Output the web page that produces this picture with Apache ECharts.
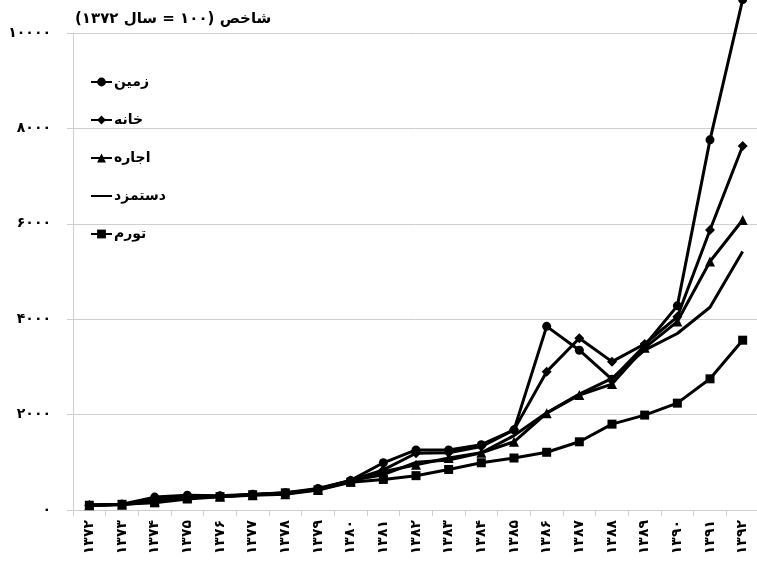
<!DOCTYPE html>
<html lang="fa">
<head>
<meta charset="utf-8">
<title>شاخص</title>
<script src="https://cdn.jsdelivr.net/npm/echarts@6/dist/echarts.min.js"></script>
<style>
  html, body { margin: 0; padding: 0; background: #fff; }
  #chart { width: 757px; height: 575px; direction: rtl; }
</style>
</head>
<body>
<div id="chart"></div>
<script>
// Years (Persian calendar), index base 1372 = 100
const years = ['۱۳۷۲','۱۳۷۳','۱۳۷۴','۱۳۷۵','۱۳۷۶','۱۳۷۷','۱۳۷۸','۱۳۷۹','۱۳۸۰','۱۳۸۱',
               '۱۳۸۲','۱۳۸۳','۱۳۸۴','۱۳۸۵','۱۳۸۶','۱۳۸۷','۱۳۸۸','۱۳۸۹','۱۳۹۰','۱۳۹۱','۱۳۹۲'];

const land    = [100, 120, 270, 310, 300, 330, 360, 450, 620, 990, 1260, 1260, 1370, 1680, 3850, 3350, 2740, 3450, 4280, 7760, 10700];
const housing = [100, 115, 220, 290, 290, 320, 340, 430, 620, 840, 1190, 1200, 1330, 1680, 2900, 3600, 3110, 3480, 4050, 5870, 7630];
const rent    = [100, 110, 180, 260, 280, 310, 330, 420, 600, 800, 950, 1090, 1200, 1430, 2030, 2410, 2640, 3400, 3950, 5210, 6080];
const wage    = [100, 120, 200, 270, 290, 320, 350, 440, 620, 740, 1000, 1050, 1200, 1560, 2040, 2430, 2760, 3350, 3700, 4250, 5420];
const cpi     = [100, 120, 150, 230, 280, 320, 360, 420, 580, 640, 720, 850, 990, 1090, 1210, 1430, 1800, 1990, 2240, 2750, 3560];

const yTicks = { 0: '۰', 2000: '۲۰۰۰', 4000: '۴۰۰۰', 6000: '۶۰۰۰', 8000: '۸۰۰۰', 10000: '۱۰۰۰۰' };

const FONT = '"DejaVu Sans", sans-serif';
const GRAY = '#cfcfcf';

function lineSeries(name, data, symbol, extra) {
  return Object.assign({
    name: name,
    type: 'line',
    data: data,
    symbol: symbol,
    symbolSize: 9,
    showSymbol: symbol !== 'none',
    lineStyle: { color: '#000', width: 3 },
    itemStyle: { color: '#000' },
    emphasis: { disabled: true },
    z: 3
  }, extra || {});
}

const chart = echarts.init(document.getElementById('chart'), null, { renderer: 'canvas' });
chart.setOption({
  animation: false,
  backgroundColor: '#fff',
  textStyle: { fontFamily: FONT },
  title: {
    text: 'شاخص (۱۰۰ = سال ۱۳۷۲)',
    left: 70,
    top: 7,
    textStyle: { fontFamily: FONT, fontSize: 15, fontWeight: 'bold', color: '#000' }
  },
  legend: {
    orient: 'vertical',
    left: 85,
    top: 70,
    itemWidth: 21,
    itemHeight: 11,
    itemGap: 24,
    textStyle: { fontFamily: FONT, fontSize: 14, fontWeight: 'bold', color: '#000', padding: [0, 0, 0, -3] },
    data: [
      'زمین',
      'خانه',
      'اجاره',
      { name: 'دستمزد', itemStyle: { opacity: 0 } },
      'تورم'
    ]
  },
  grid: { left: 73, top: 33, width: 686, height: 477, outerBoundsMode: 'none' },
  xAxis: {
    type: 'category',
    data: years,
    boundaryGap: true,
    axisLine: { lineStyle: { color: GRAY, width: 1 } },
    axisTick: { show: true, length: 6, lineStyle: { color: GRAY } },
    axisLabel: {
      rotate: 90,
      margin: 10,
      interval: 0,
      fontFamily: FONT,
      fontSize: 14,
      fontWeight: 'bold',
      color: '#000'
    },
    splitLine: { show: false }
  },
  yAxis: {
    type: 'value',
    min: 0,
    max: 10000,
    interval: 2000,
    axisLine: { show: true, lineStyle: { color: GRAY, width: 1 } },
    axisTick: { show: true, length: 6, lineStyle: { color: GRAY } },
    axisLabel: {
      margin: 22,
      fontFamily: FONT,
      fontSize: 14,
      fontWeight: 'bold',
      color: '#000',
      formatter: v => yTicks[v] !== undefined ? yTicks[v] : ''
    },
    splitLine: { show: true, lineStyle: { color: GRAY, width: 1 } }
  },
  series: [
    lineSeries('زمین', land, 'circle', { clip: false }),
    lineSeries('خانه', housing, 'diamond', { symbolSize: 10 }),
    lineSeries('اجاره', rent, 'triangle', { symbolSize: 10 }),
    lineSeries('دستمزد', wage, 'none'),
    lineSeries('تورم', cpi, 'rect', { symbolSize: 9 })
  ]
});
</script>
</body>
</html>
